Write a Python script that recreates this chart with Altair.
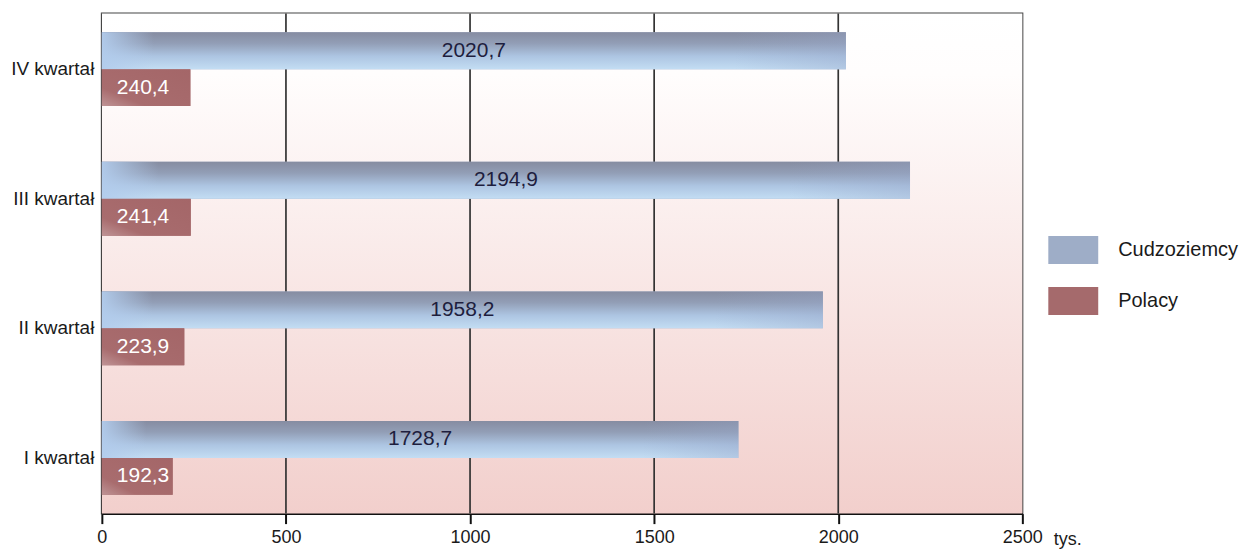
import altair as alt
import pandas as pd

# ---- data ----
quarters = ["I kwartał", "II kwartał", "III kwartał", "IV kwartał"]
cudzoziemcy = [1728.7, 1958.2, 2194.9, 2020.7]
polacy = [192.3, 223.9, 241.4, 240.4]
series = ["Cudzoziemcy", "Polacy"]
x_ticks = [0, 500, 1000, 1500, 2000, 2500]
grid_ticks = [500, 1000, 1500, 2000]
unit_label = "tys."

rows = []
for q, c, p in zip(quarters, cudzoziemcy, polacy):
    rows.append({"kwartal": q, "seria": series[0], "wartosc": c})
    rows.append({"kwartal": q, "seria": series[1], "wartosc": p})
df = pd.DataFrame(rows)
grid_df = pd.DataFrame({"v": grid_ticks})
bg_df = pd.DataFrame({"bg": [0]})

order = quarters[::-1]
FONT = "Liberation Sans"
INK = "#1a1a1a"

x_scale = alt.Scale(domain=[0, 2500], nice=False)
x_axis = alt.Axis(
    values=x_ticks, grid=False, tickSize=10, tickColor="#111", tickWidth=2,
    domainColor="#111", domainWidth=2, labelFontSize=18, labelPadding=5,
    labelColor=INK, labelFont=FONT, format="d", labelFlush=False,
    titleX=953, titleY=31, titleAlign="left", titleBaseline="alphabetic",
    titleFontWeight="normal", titleFontSize=18, titleColor=INK, titleFont=FONT,
)


def xenc(field):
    return alt.X(field, type="quantitative", scale=x_scale, axis=x_axis, title=unit_label)


y_enc = alt.Y(
    "kwartal:N", sort=order,
    scale=alt.Scale(paddingInner=0.43, paddingOuter=0.145),
    axis=alt.Axis(title=None, ticks=False, labelFontSize=19, labelPadding=8,
                  labelColor=INK, labelFont=FONT, domainColor="#111", domainWidth=2),
)
yoff = alt.YOffset("seria:N", sort=series, scale=alt.Scale(paddingInner=0, paddingOuter=0))

# background gradient of the plot area
bg = alt.Chart(bg_df).mark_rect(
    fill=alt.Gradient(
        gradient="linear", x1=0, x2=0, y1=0, y2=1,
        stops=[alt.GradientStop(offset=0, color="#ffffff"),
               alt.GradientStop(offset=0.12, color="#fffdfd"),
               alt.GradientStop(offset=1, color="#f2cfcc")],
    )
).encode(x=alt.value(0), x2=alt.value("width"), y=alt.value(0), y2=alt.value("height"))

grid = alt.Chart(grid_df).mark_rule(color="#333333", strokeWidth=1.7).encode(x=xenc("v"))

base = alt.Chart(df)

bars = base.mark_bar(stroke=None).encode(
    x=xenc("wartosc"),
    y=y_enc,
    yOffset=yoff,
    color=alt.Color(
        "seria:N",
        scale=alt.Scale(domain=series, range=["#9eadc7", "#a56a6c"]),
        legend=alt.Legend(
            orient="none", legendX=948, legendY=212, title=None,
            symbolType="M-1,-0.56H1V0.56H-1Z", symbolSize=2500,
            symbolStrokeWidth=0, symbolOpacity=1,
            labelFontSize=20, labelOffset=20, rowPadding=12, padding=0,
            labelFont=FONT, labelColor=INK,
        ),
    ),
)

cud_grad = base.transform_filter(alt.datum.seria == series[0]).mark_bar(
    fill=alt.Gradient(
        gradient="linear", x1=0, x2=0, y1=0, y2=1,
        stops=[alt.GradientStop(offset=0, color="#868ca1"),
               alt.GradientStop(offset=0.3, color="#929eb6"),
               alt.GradientStop(offset=0.65, color="#adc5e2"),
               alt.GradientStop(offset=1, color="#c3ddf3")],
    )
).encode(x=xenc("wartosc"), y=y_enc, yOffset=yoff)

cud_hl = base.transform_filter(alt.datum.seria == series[0]).mark_bar(
    fill=alt.Gradient(
        gradient="linear", x1=0, x2=1, y1=0, y2=0,
        stops=[alt.GradientStop(offset=0, color="rgba(178,204,236,0.95)"),
               alt.GradientStop(offset=0.07, color="rgba(178,204,236,0)"),
               alt.GradientStop(offset=0.85, color="rgba(150,165,200,0)"),
               alt.GradientStop(offset=1, color="rgba(150,165,200,0.35)")],
    )
).encode(x=xenc("wartosc"), y=y_enc, yOffset=yoff)

pol_grad = base.transform_filter(alt.datum.seria == series[1]).mark_bar(
    fill=alt.Gradient(
        gradient="linear", x1=1, x2=0, y1=0, y2=1,
        stops=[alt.GradientStop(offset=0, color="#a46668"),
               alt.GradientStop(offset=0.75, color="#a86c6e"),
               alt.GradientStop(offset=1, color="#bf9496")],
    )
).encode(x=xenc("wartosc"), y=y_enc, yOffset=yoff)

labels = base.transform_calculate(
    label="replace(format(datum.wartosc, '.1f'), '.', ',')",
    half="datum.wartosc / 2",
    start="0",
)

cud_text = labels.transform_filter(alt.datum.seria == series[0]).mark_text(
    fontSize=21, color="#1e1e3e", align="center", baseline="middle", font=FONT
).encode(x=xenc("half"), y=y_enc, yOffset=yoff, text="label:N")

pol_text = labels.transform_filter(alt.datum.seria == series[1]).mark_text(
    fontSize=21, color="#ffffff", align="left", baseline="middle", dx=15, font=FONT
).encode(x=xenc("start"), y=y_enc, yOffset=yoff, text="label:N")

chart = alt.layer(bg, grid, bars, cud_grad, cud_hl, pol_grad, cud_text, pol_text).properties(
    width=922, height=501,
    padding={"left": 2, "top": 4, "right": 0, "bottom": 0},
).configure(font=FONT).configure_view(stroke="#454545", strokeWidth=2)

chart.save("out.html", embed_options={"renderer": "svg", "actions": False})
